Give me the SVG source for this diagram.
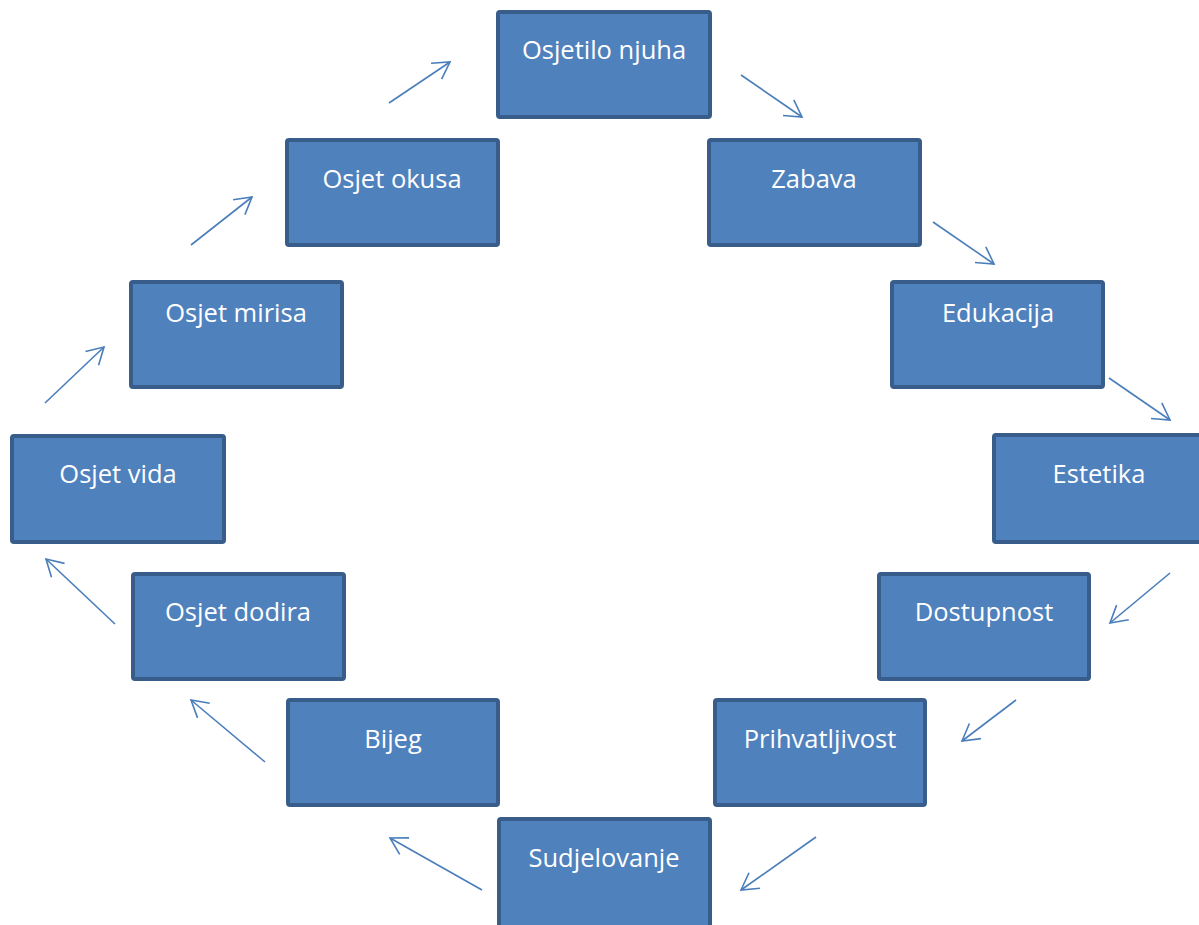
<svg xmlns="http://www.w3.org/2000/svg" width="1199" height="925" viewBox="0 0 1199 925">
<style>
.box{fill:#4F81BD;stroke:#385D8A;stroke-width:4}
.lbl{fill:#FFFFFF;font-family:"Open Sans","Liberation Sans",sans-serif;font-size:25.5px;text-anchor:middle}
.con{stroke:#4A7EBB;stroke-width:1.6;fill:none}
</style>
<defs>
<marker id="ah" markerUnits="userSpaceOnUse" viewBox="-20 -12 24 24" refX="0" refY="0" markerWidth="24" markerHeight="24" orient="auto">
<path d="M-16.5,-9.5 L0,0 L-16.5,9.5" fill="none" stroke="#4A7EBB" stroke-width="1.6"/>
</marker>
</defs>
<rect width="1199" height="925" fill="#FFFFFF"/>
<g id="n1"><rect class="box" x="498" y="12" width="212" height="105" rx="2"/><text class="lbl" x="604" y="59">Osjetilo njuha</text></g>
<g id="n2"><rect class="box" x="709" y="140" width="211" height="105" rx="2"/><text class="lbl" x="814" y="188">Zabava</text></g>
<g id="n3"><rect class="box" x="287" y="140" width="211" height="105" rx="2"/><text class="lbl" x="392" y="188">Osjet okusa</text></g>
<g id="n4"><rect class="box" x="131" y="282" width="211" height="105" rx="2"/><text class="lbl" x="236" y="322">Osjet mirisa</text></g>
<g id="n5"><rect class="box" x="892" y="282" width="211" height="105" rx="2"/><text class="lbl" x="998" y="322">Edukacija</text></g>
<g id="n6"><rect class="box" x="12" y="436" width="212" height="106" rx="2"/><text class="lbl" x="118" y="483">Osjet vida</text></g>
<g id="n7"><rect class="box" x="994" y="435" width="220" height="107" rx="2"/><text class="lbl" x="1099" y="483">Estetika</text></g>
<g id="n8"><rect class="box" x="133" y="574" width="211" height="105" rx="2"/><text class="lbl" x="238" y="621">Osjet dodira</text></g>
<g id="n9"><rect class="box" x="879" y="574" width="210" height="105" rx="2"/><text class="lbl" x="984" y="621">Dostupnost</text></g>
<g id="n10"><rect class="box" x="288" y="700" width="210" height="105" rx="2"/><text class="lbl" x="393" y="748">Bijeg</text></g>
<g id="n11"><rect class="box" x="715" y="700" width="210" height="105" rx="2"/><text class="lbl" x="820" y="748">Prihvatljivost</text></g>
<g id="n12"><rect class="box" x="499" y="819" width="211" height="115" rx="2"/><text class="lbl" x="604" y="867">Sudjelovanje</text></g>
<g id="connectors">
<line class="con" x1="389" y1="103" x2="450" y2="62" marker-end="url(#ah)"/>
<line class="con" x1="741" y1="75" x2="802" y2="117" marker-end="url(#ah)"/>
<line class="con" x1="191" y1="245" x2="252" y2="197" marker-end="url(#ah)"/>
<line class="con" x1="933" y1="222" x2="994" y2="264" marker-end="url(#ah)"/>
<line class="con" x1="45" y1="403" x2="104" y2="347" marker-end="url(#ah)"/>
<line class="con" x1="1109" y1="378" x2="1170" y2="420" marker-end="url(#ah)"/>
<line class="con" x1="1170" y1="573" x2="1110" y2="623" marker-end="url(#ah)"/>
<line class="con" x1="115" y1="624" x2="46" y2="559" marker-end="url(#ah)"/>
<line class="con" x1="1016" y1="700" x2="962" y2="741" marker-end="url(#ah)"/>
<line class="con" x1="265" y1="762" x2="191" y2="700" marker-end="url(#ah)"/>
<line class="con" x1="816" y1="837" x2="741" y2="890" marker-end="url(#ah)"/>
<line class="con" x1="482" y1="890" x2="390" y2="838" marker-end="url(#ah)"/>
</g>
</svg>
